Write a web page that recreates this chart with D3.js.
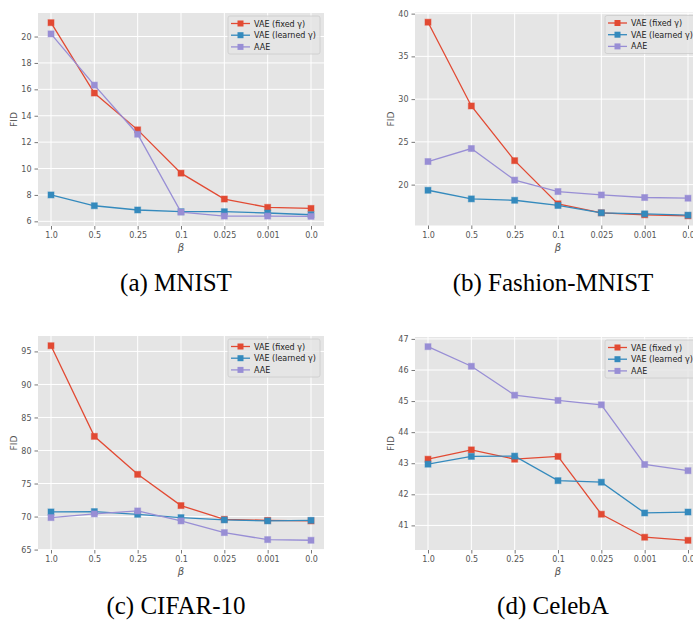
<!DOCTYPE html>
<html>
<head>
<meta charset="utf-8">
<script src="https://cdn.jsdelivr.net/npm/d3@7"></script>
<style>
  body { margin: 0; background: #fff; }
  svg { display: block; }
</style>
</head>
<body>
<svg id="chart" width="693" height="621"></svg>
<script>
const betas = ["1.0", "0.5", "0.25", "0.1", "0.025", "0.001", "0.0"];
const seriesNames = ["VAE (fixed γ)", "VAE (learned γ)", "AAE"];
const seriesColors = ["#E24A33", "#348ABD", "#988ED5"];

// MNIST
const mnistFixed   = [21.05, 15.72, 12.93, 9.65, 7.69, 7.06, 6.98];
const mnistLearned = [8.0, 7.18, 6.86, 6.73, 6.73, 6.63, 6.5];
const mnistAAE     = [20.2, 16.32, 12.6, 6.7, 6.4, 6.4, 6.38];
const mnistTicks   = [6, 8, 10, 12, 14, 16, 18, 20];

// Fashion-MNIST
const fashionFixed   = [39.0, 29.2, 22.8, 17.75, 16.7, 16.47, 16.35];
const fashionLearned = [19.34, 18.33, 18.17, 17.56, 16.7, 16.58, 16.43];
const fashionAAE     = [22.7, 24.22, 20.53, 19.19, 18.79, 18.49, 18.41];
const fashionTicks   = [20, 25, 30, 35, 40];

// CIFAR-10
const cifarFixed   = [95.86, 82.14, 76.39, 71.66, 69.58, 69.43, 69.34];
const cifarLearned = [70.7, 70.75, 70.34, 69.84, 69.49, 69.34, 69.43];
const cifarAAE     = [69.84, 70.4, 70.85, 69.34, 67.57, 66.51, 66.41];
const cifarTicks   = [65, 70, 75, 80, 85, 90, 95];

// CelebA
const celebaFixed   = [43.13, 43.43, 43.13, 43.22, 41.36, 40.62, 40.52];
const celebaLearned = [42.97, 43.22, 43.23, 42.44, 42.39, 41.4, 41.43];
const celebaAAE     = [46.75, 46.12, 45.19, 45.02, 44.88, 42.96, 42.76];
const celebaTicks   = [41, 42, 43, 44, 45, 46, 47];

const svg = d3.select("#chart");

function drawPanel(box, series, ticks, caption, captionY) {
    const x = d3.scalePoint()
        .domain(betas)
        .range([box.left, box.right])
        .padding(0.3);

    const all = series.flat();
    const lo = d3.min(all), hi = d3.max(all);
    const pad = (hi - lo) * 0.05;
    const y = d3.scaleLinear()
        .domain([lo - pad, hi + pad])
        .range([box.bottom, box.top]);

    const g = svg.append("g");

    g.append("rect")
        .attr("x", box.left)
        .attr("y", box.top)
        .attr("width", box.right - box.left)
        .attr("height", box.bottom - box.top)
        .attr("fill", "#E5E5E5");

    // grid
    g.append("g").selectAll("line").data(ticks).join("line")
        .attr("x1", box.left).attr("x2", box.right)
        .attr("y1", d => y(d)).attr("y2", d => y(d))
        .attr("stroke", "#fff").attr("stroke-width", 1);
    g.append("g").selectAll("line").data(betas).join("line")
        .attr("x1", d => x(d)).attr("x2", d => x(d))
        .attr("y1", box.top).attr("y2", box.bottom)
        .attr("stroke", "#fff").attr("stroke-width", 1);

    // axes
    const yAxis = g.append("g")
        .attr("transform", "translate(" + box.left + ",0)")
        .call(d3.axisLeft(y).tickValues(ticks).tickFormat(d3.format("d")).tickSize(3.5).tickPadding(3));
    const xAxis = g.append("g")
        .attr("transform", "translate(0," + box.bottom + ")")
        .call(d3.axisBottom(x).tickSize(3.5).tickPadding(3));
    [yAxis, xAxis].forEach(a => {
        a.select(".domain").remove();
        a.selectAll(".tick line").attr("stroke", "#555").attr("stroke-width", 0.8);
        a.selectAll(".tick text")
            .attr("fill", "#555")
            .style("font-family", "DejaVu Sans")
            .style("font-size", "8px");
    });

    // axis labels
    g.append("text")
        .attr("transform", "translate(" + (box.left - 21) + "," + ((box.top + box.bottom) / 2) + ") rotate(-90)")
        .attr("text-anchor", "middle")
        .attr("fill", "#555")
        .style("font-family", "DejaVu Sans")
        .style("font-size", "9px")
        .text("FID");
    g.append("text")
        .attr("x", (box.left + box.right) / 2)
        .attr("y", box.bottom + 25)
        .attr("text-anchor", "middle")
        .attr("fill", "#555")
        .style("font-family", "DejaVu Sans")
        .style("font-style", "italic")
        .style("font-size", "10px")
        .text("β");

    // lines + markers
    const line = d3.line()
        .x((d, i) => x(betas[i]))
        .y(d => y(d));
    series.forEach((vals, k) => {
        g.append("path")
            .datum(vals)
            .attr("fill", "none")
            .attr("stroke", seriesColors[k])
            .attr("stroke-width", 1.3)
            .attr("d", line);
        g.append("g").selectAll("rect").data(vals).join("rect")
            .attr("x", (d, i) => x(betas[i]) - 3)
            .attr("y", d => y(d) - 3)
            .attr("width", 6).attr("height", 6)
            .attr("fill", seriesColors[k])
            .attr("stroke", seriesColors[k])
            .attr("stroke-opacity", 0.5)
            .attr("stroke-width", 1);
    });

    // legend
    const lw = 92, lh = 38;
    const lx = box.right - 4 - lw, ly = box.top + 3;
    const leg = g.append("g").attr("transform", "translate(" + lx + "," + ly + ")");
    leg.append("rect")
        .attr("width", lw).attr("height", lh).attr("rx", 2)
        .attr("fill", "#E5E5E5").attr("fill-opacity", 0.8)
        .attr("stroke", "#ccc").attr("stroke-width", 0.8);
    seriesNames.forEach((name, k) => {
        const ry = 7.5 + k * 11.7;
        leg.append("line")
            .attr("x1", 3).attr("x2", 22).attr("y1", ry).attr("y2", ry)
            .attr("stroke", seriesColors[k]).attr("stroke-width", 1.3);
        leg.append("rect")
            .attr("x", 9.5).attr("y", ry - 3).attr("width", 6).attr("height", 6)
            .attr("fill", seriesColors[k]);
        leg.append("text")
            .attr("x", 26).attr("y", ry + 3)
            .attr("fill", "#222")
            .style("font-family", "DejaVu Sans")
            .style("font-size", "8px")
            .text(name);
    });

    // caption
    svg.append("text")
        .attr("x", (box.left + box.right) / 2 - 5)
        .attr("y", captionY)
        .attr("text-anchor", "middle")
        .attr("fill", "#000")
        .style("font-family", "Liberation Serif")
        .style("font-size", "25px")
        .text(caption);
}

drawPanel({left: 38, right: 324, top: 13, bottom: 226},
    [mnistFixed, mnistLearned, mnistAAE], mnistTicks, "(a) MNIST", 291);
drawPanel({left: 415, right: 701, top: 12.5, bottom: 225.5},
    [fashionFixed, fashionLearned, fashionAAE], fashionTicks, "(b) Fashion-MNIST", 291);
drawPanel({left: 38, right: 324, top: 336, bottom: 550},
    [cifarFixed, cifarLearned, cifarAAE], cifarTicks, "(c) CIFAR-10", 614);
drawPanel({left: 415, right: 701, top: 337, bottom: 550},
    [celebaFixed, celebaLearned, celebaAAE], celebaTicks, "(d) CelebA", 614);
</script>
</body>
</html>
